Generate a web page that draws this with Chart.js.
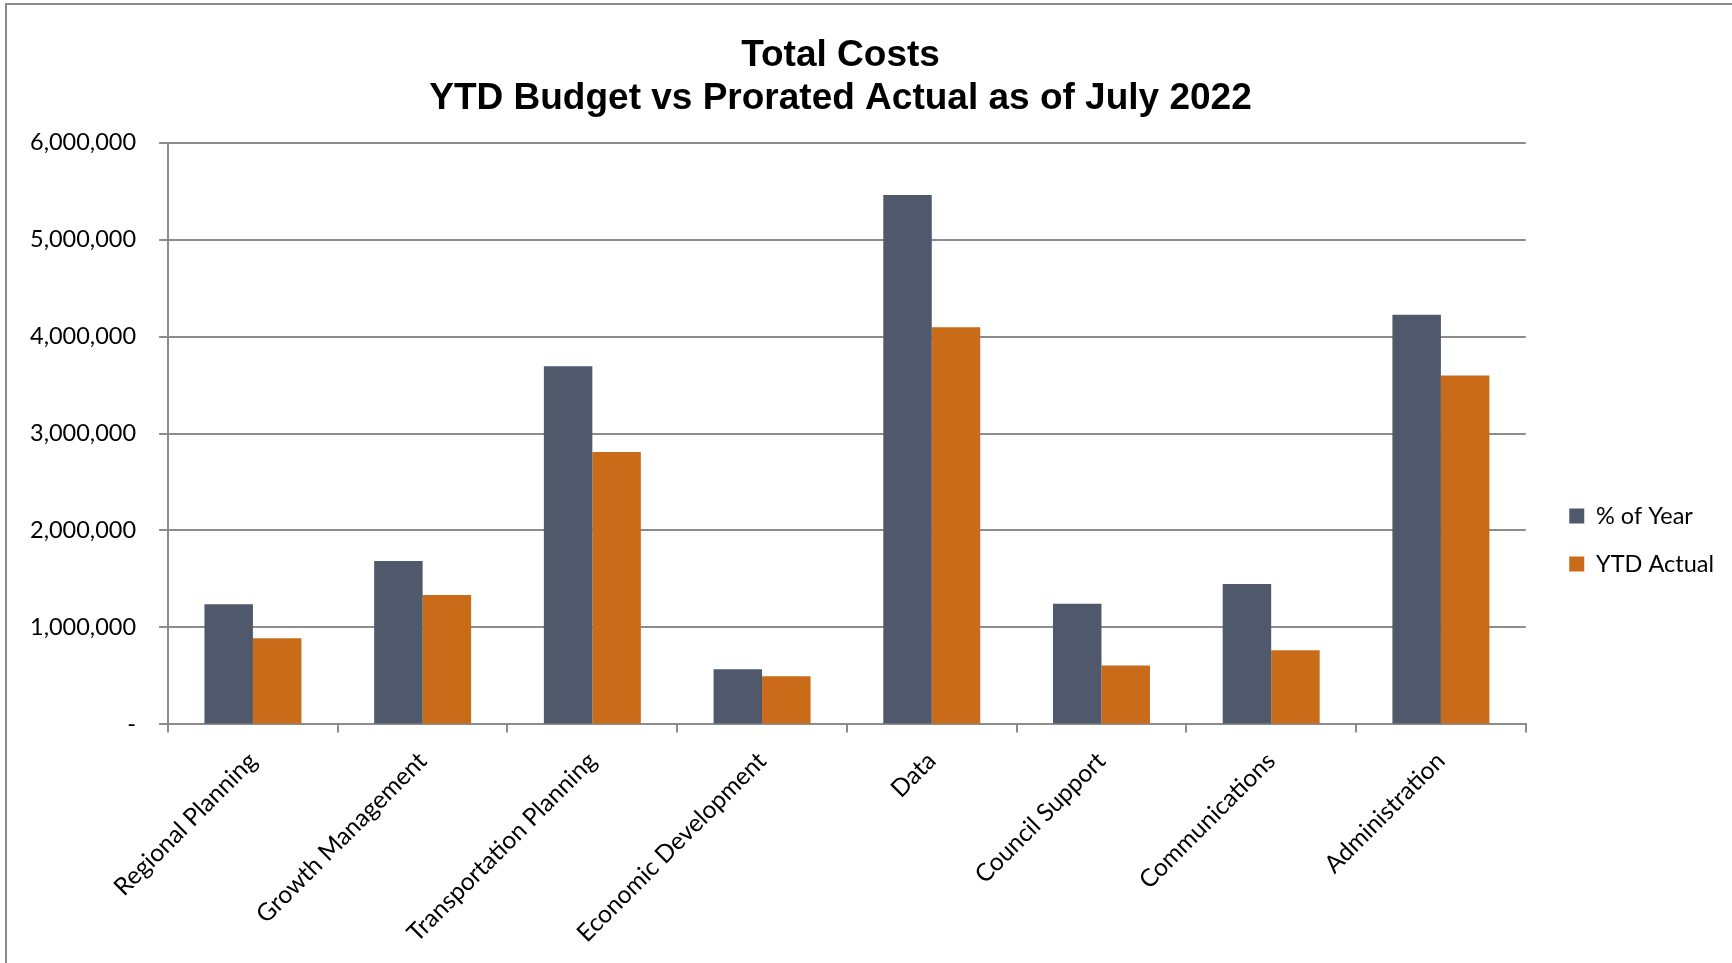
<!DOCTYPE html>
<html>
<head>
<meta charset="utf-8">
<script src="https://cdn.jsdelivr.net/npm/chart.js@4.4.1/dist/chart.umd.min.js"></script>
<style>
  html, body { margin: 0; padding: 0; background: #fff; overflow: hidden; }
  #wrap { position: absolute; left: 0; top: 0; width: 1732px; height: 963px; }
  #frame { position: absolute; left: 5px; top: 3px; width: 1800px; height: 1100px;
           border-left: 2px solid #8a8a8a; border-top: 2px solid #8a8a8a; pointer-events: none; }
  canvas { position: absolute; left: 0; top: 0; }
</style>
</head>
<body>
<div id="wrap">
  <canvas id="c" width="1732" height="963"></canvas>
  <div id="frame"></div>
</div>
<script>
const titleLines = ['Total Costs', 'YTD Budget vs Prorated Actual as of July 2022'];
const categories = ['Regional Planning', 'Growth Management', 'Transportation Planning', 'Economic Development', 'Data', 'Council Support', 'Communications', 'Administration'];
const seriesNames = ['% of Year', 'YTD Actual'];
const pctOfYear = [1240000, 1686000, 3693000, 568000, 5459000, 1245000, 1448000, 4224000];
const ytdActual = [890000, 1334000, 2810000, 497000, 4096000, 607000, 766000, 3597000];
const yTicks = [0, 1000000, 2000000, 3000000, 4000000, 5000000, 6000000];

const GRAY = '#50596B';
const ORANGE = '#C96B19';
const AXIS = '#8c8c8c';
const FONT_FAMILY = 'Lato, Carlito, Calibri, sans-serif';
const LABEL_FONT = { family: FONT_FAMILY, size: 23.5 };
const XLABEL_FONT = { family: FONT_FAMILY, size: 24.5 };

const TITLE_SHIFT = -25;
const LEGEND_SHIFT = 59;

const adjustPlugin = {
  id: 'adjust',
  afterLayout(chart) {
    const t = chart.titleBlock;
    if (t) { t.left += TITLE_SHIFT; t.right += TITLE_SHIFT; }
    const l = chart.legend;
    if (l) { l.top += LEGEND_SHIFT; l.bottom += LEGEND_SHIFT; }
  }
};

new Chart(document.getElementById('c'), {
  type: 'bar',
  data: {
    labels: categories,
    datasets: [
      { label: seriesNames[0], data: pctOfYear, backgroundColor: GRAY, borderWidth: 0 },
      { label: seriesNames[1], data: ytdActual, backgroundColor: ORANGE, borderWidth: 0 }
    ]
  },
  plugins: [adjustPlugin],
  options: {
    responsive: false,
    animation: false,
    events: [],
    layout: { padding: { left: 7, right: 8, top: 0, bottom: 1 } },
    datasets: { bar: { categoryPercentage: 2 / 3.5, barPercentage: 1 } },
    plugins: {
      tooltip: { enabled: false },
      title: {
        display: true,
        text: titleLines,
        color: '#000',
        font: { family: '"Liberation Sans", Arial, sans-serif', size: 37, weight: 'bold', lineHeight: 1.17 },
        padding: { top: 34, bottom: 22 }
      },
      legend: {
        display: true,
        position: 'right',
        align: 'center',
        labels: {
          color: '#000',
          font: LABEL_FONT,
          boxWidth: 15,
          boxHeight: 15,
          padding: 24.5
        }
      }
    },
    scales: {
      x: {
        grid: { display: true, drawOnChartArea: false, drawTicks: true, tickLength: 8, color: AXIS, lineWidth: 2, offset: true },
        border: { display: true, color: AXIS, width: 2 },
        ticks: { color: '#000', font: XLABEL_FONT, autoSkip: false, maxRotation: 45, minRotation: 45, padding: 14 }
      },
      y: {
        min: 0,
        max: 6000000,
        afterBuildTicks(scale) { scale.ticks = yTicks.map(v => ({ value: v })); },
        grid: { color: AXIS, lineWidth: 2, tickLength: 9, drawTicks: true },
        border: { display: true, color: AXIS, width: 2 },
        ticks: {
          color: '#000',
          font: LABEL_FONT,
          padding: 23,
          callback: v => v === 0 ? '-' : Number(v).toLocaleString('en-US')
        }
      },
      gap: {
        position: 'right',
        display: true,
        grid: { display: false, drawTicks: false },
        border: { display: false },
        ticks: { display: false },
        afterFit(s) { s.width = 19; }
      }
    }
  }
});
</script>
</body>
</html>
